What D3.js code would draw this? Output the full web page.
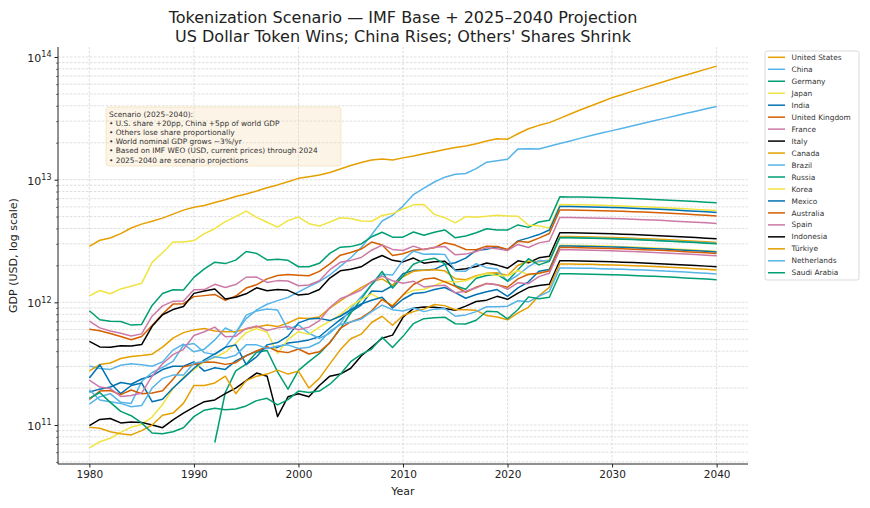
<!DOCTYPE html>
<html><head><meta charset="utf-8">
<script src="https://cdnjs.cloudflare.com/ajax/libs/d3/7.8.5/d3.min.js"></script>
<style>body{margin:0;background:#fff} svg{font-family:"DejaVu Sans",sans-serif}</style>
</head><body><svg id="c" width="870" height="508"></svg>
<script>
// ---- data (GDP, billions of current USD) ----
const histYears = d3.range(1980, 2025);
const projYears = d3.range(2025, 2041);
const countries = ["United States","China","Germany","Japan","India","United Kingdom","France","Italy","Canada","Brazil","Russia","Korea","Mexico","Australia","Spain","Indonesia","Türkiye","Netherlands","Saudi Arabia"];
const palette = ["#E69F00","#56B4E9","#009E73","#F0E442","#0072B2","#D55E00","#CC79A7","#000000"];
const yTickValues = [1e11, 1e12, 1e13, 1e14];
const yTickExponents = ["11","12","13","14"];
const xTickValues = [1980,1990,2000,2010,2020,2030,2040];

const usHist = [2857,3207,3344,3634,4037,4339,4580,4855,5236,5642,5963,6158,6520,6858,7287,7640,8073,8578,9063,9631,10251,10582,10929,11457,12217,13039,13816,14474,14770,14478,15049,15600,16254,16880,17608,18295,18805,19612,20657,21540,21354,23681,26007,27721,29185];
const usProj = [31600,34300,37100,40100,43200,46600,49500,52700,56000,59400,63100,67000,71000,75200,79600,84300];
const chinaHist = [303,289,284,307,315,310,301,327,408,457,395,415,494,618,565,737,867,965,1032,1097,1214,1344,1477,1671,1966,2309,2797,3555,4604,5122,6087,7552,8532,9570,10476,11062,11233,12310,13895,14280,14688,17820,17882,17795,18748];
const chinaProj = [19700,20700,21800,22900,24000,25100,26300,27500,28800,30200,31600,33000,34600,36100,37800,39500];
const germanyHist = [854,721,700,697,652,661,943,1180,1267,1259,1598,1872,2123,2069,2208,2595,2502,2217,2243,2200,1950,1951,2079,2506,2815,2846,2993,3421,3730,3398,3397,3744,3527,3733,3890,3357,3469,3690,3977,3889,3887,4278,4082,4525,4659];
const germanyProj = [7245,7234,7212,7183,7148,7107,7060,7008,6953,6894,6831,6765,6696,6626,6551,6473];
const japanHist = [1129,1249,1174,1286,1354,1428,2117,2539,3101,3110,3186,3632,3981,4544,4999,5546,4924,4493,4098,4636,4968,4374,4183,4519,4893,4831,4601,4580,5106,5289,5759,6233,6272,5212,4897,4444,5004,4931,5041,5118,5055,5034,4256,4213,4026];
const japanProj = [6260,6251,6232,6206,6176,6140,6100,6055,6008,5956,5902,5846,5785,5725,5660,5593];
const indiaHist = [186,196,204,222,215,237,252,283,301,301,327,275,293,284,333,367,400,424,429,467,477,494,524,618,722,834,949,1238,1224,1365,1708,1823,1828,1857,2039,2104,2295,2651,2703,2836,2674,3168,3354,3568,3889];
const indiaProj = [6047,6038,6020,5995,5966,5932,5892,5849,5803,5754,5701,5647,5589,5530,5468,5403];
const ukHist = [604,587,558,526,496,527,647,803,967,975,1113,1134,1160,1038,1125,1307,1393,1554,1653,1687,1665,1649,1786,2060,2422,2544,2718,3100,2929,2412,2486,2664,2707,2786,3065,2928,2694,2681,2871,2851,2697,3141,3089,3340,3644];
const ukProj = [5666,5658,5640,5617,5590,5558,5521,5481,5438,5391,5342,5291,5237,5182,5123,5063];
const franceHist = [702,619,584,560,531,553,771,936,1019,1025,1269,1270,1402,1323,1395,1601,1606,1453,1503,1493,1366,1383,1501,1844,2119,2197,2320,2660,2930,2700,2646,2870,2683,2811,2856,2439,2472,2595,2790,2729,2647,2966,2796,3052,3162];
const franceProj = [4917,4910,4895,4875,4851,4823,4791,4756,4719,4679,4636,4591,4544,4497,4446,4393];
const italyHist = [481,433,430,443,440,453,637,792,873,925,1183,1236,1284,1065,1100,1174,1313,1241,1270,1253,1146,1171,1271,1578,1807,1858,1949,2213,2408,2199,2136,2295,2087,2142,2162,1836,1877,1961,2092,2011,1897,2179,2104,2304,2373];
const italyProj = [3690,3684,3673,3658,3641,3620,3596,3569,3541,3511,3479,3446,3410,3375,3336,3297];
const canadaHist = [276,311,320,348,361,368,378,431,511,566,596,613,583,576,579,605,630,654,634,678,744,738,760,896,1026,1173,1319,1468,1553,1377,1617,1793,1828,1847,1805,1556,1528,1650,1725,1744,1655,2008,2162,2142,2214];
const canadaProj = [3443,3438,3428,3413,3397,3377,3355,3330,3304,3276,3246,3215,3182,3149,3113,3076];
const brazilHist = [148,170,180,153,150,226,268,295,330,447,462,389,375,429,559,786,850,883,864,600,655,560,510,559,670,892,1108,1397,1696,1667,2209,2616,2465,2473,2456,1802,1796,2064,1917,1873,1476,1670,1952,2191,2171];
const brazilProj = [3376,3371,3361,3347,3331,3312,3290,3266,3240,3212,3183,3153,3120,3087,3053,3016];
const russiaHist = [null,null,null,null,null,null,null,null,null,null,null,null,72,184,276,313,392,405,271,196,279,329,383,471,608,818,1061,1393,1783,1306,1635,2046,2208,2292,2059,1363,1277,1574,1657,1693,1493,1843,2266,2021,2161];
const russiaProj = [3360,3355,3345,3331,3315,3296,3274,3250,3225,3197,3168,3138,3105,3073,3038,3002];
const koreaHist = [65,73,78,87,96,101,116,147,197,246,283,330,355,392,463,566,610,570,383,498,576,548,627,702,793,935,1053,1173,1047,944,1144,1253,1278,1370,1484,1466,1500,1623,1725,1651,1644,1818,1674,1713,1875];
const koreaProj = [2916,2912,2903,2891,2877,2860,2841,2821,2798,2775,2749,2723,2695,2667,2637,2605];
const mexicoHist = [242,310,220,180,210,220,155,162,200,240,290,340,380,430,450,310,360,450,470,530,680,730,740,710,770,870,970,1040,1100,900,1060,1180,1200,1270,1320,1200,1080,1160,1220,1270,1120,1310,1470,1790,1852];
const mexicoProj = [2880,2876,2867,2855,2841,2825,2806,2786,2764,2740,2715,2689,2662,2634,2604,2573];
const australiaHist = [162,189,191,177,193,180,182,190,236,299,311,326,325,312,322,368,401,435,399,389,416,379,395,467,614,692,747,853,1055,928,1146,1397,1547,1577,1468,1351,1208,1326,1427,1392,1327,1553,1692,1727,1802];
const australiaProj = [2802,2798,2789,2778,2764,2748,2730,2710,2689,2666,2642,2616,2590,2562,2534,2504];
const spainHist = [232,204,198,171,174,182,250,316,375,414,537,575,628,525,530,613,641,590,619,635,598,628,708,907,1069,1153,1260,1474,1634,1499,1431,1487,1336,1362,1380,1196,1233,1313,1422,1394,1277,1446,1420,1620,1725];
const spainProj = [2682,2678,2670,2659,2646,2631,2613,2594,2574,2552,2529,2504,2479,2453,2425,2396];
const indonesiaHist = [99,111,113,104,106,105,100,95,110,125,140,155,160,180,200,230,265,250,117,170,180,170,210,250,260,290,365,430,510,540,755,893,918,912,891,861,932,1016,1042,1119,1059,1187,1319,1371,1403];
const indonesiaProj = [2182,2179,2172,2163,2153,2140,2126,2111,2094,2076,2057,2038,2017,1995,1973,1950];
const turkiyeHist = [96,94,88,85,83,90,100,120,125,150,210,210,220,250,180,230,250,260,280,260,275,200,240,315,410,505,550,685,770,650,780,840,880,960,940,870,870,860,780,760,720,820,910,1130,1323];
const turkiyeProj = [2057,2054,2048,2039,2029,2018,2004,1990,1974,1957,1939,1921,1901,1881,1860,1838];
const netherlandsHist = [194,160,155,150,141,144,200,240,255,255,320,330,360,350,370,450,450,420,440,450,420,430,470,580,660,690,730,840,950,870,850,900,840,880,890,770,790,840,920,920,930,1030,1010,1120,1227];
const netherlandsProj = [1908,1905,1899,1892,1882,1872,1859,1846,1831,1815,1799,1782,1763,1745,1725,1705];
const saudiHist = [165,184,153,129,119,104,86,85,88,95,117,132,137,133,135,143,158,165,146,161,189,184,189,215,259,328,377,416,520,429,528,671,736,747,756,669,666,715,846,838,734,874,1108,1068,1100];
const saudiProj = [1711,1708,1703,1696,1688,1678,1667,1655,1642,1628,1613,1598,1581,1565,1547,1529];

const histData = [usHist,chinaHist,germanyHist,japanHist,indiaHist,ukHist,franceHist,italyHist,canadaHist,brazilHist,russiaHist,koreaHist,mexicoHist,australiaHist,spainHist,indonesiaHist,turkiyeHist,netherlandsHist,saudiHist];
const projData = [usProj,chinaProj,germanyProj,japanProj,indiaProj,ukProj,franceProj,italyProj,canadaProj,brazilProj,russiaProj,koreaProj,mexicoProj,australiaProj,spainProj,indonesiaProj,turkiyeProj,netherlandsProj,saudiProj];

const noteLines = ["Scenario (2025–2040):","• U.S. share +20pp, China +5pp of world GDP","• Others lose share proportionally","• World nominal GDP grows ~3%/yr","• Based on IMF WEO (USD, current prices) through 2024","• 2025–2040 are scenario projections"];

// ---- layout ----
const svg = d3.select("#c");
const L = 58, R = 748, T = 47, B = 464;
const x = d3.scaleLinear().domain([1977, 2043]).range([L, R]);
const y = d3.scaleLog().domain([Math.pow(10,10.682), Math.pow(10,14.0815)]).range([B, T]);

const series = countries.map((name, i) => ({
  name, color: palette[i % palette.length],
  pts: histYears.map((yr, j) => ({year: yr, v: histData[i][j]}))
        .concat(projYears.map((yr, j) => ({year: yr, v: projData[i][j]})))
}));

// grid
const minorVals = [];
[1e10,1e11,1e12,1e13,1e14].forEach(d => { for (let k = 1; k <= 9; k++) { const v = d*k; if (v >= y.domain()[0] && v <= y.domain()[1]) minorVals.push(v); } });
const grid = svg.append("g");
grid.selectAll("line.gy").data(minorVals).join("line")
  .attr("x1", L).attr("x2", R).attr("y1", d => y(d)).attr("y2", d => y(d))
  .attr("stroke", "#c8c8c8").attr("stroke-width", 0.6).attr("stroke-dasharray", "2.5,1.5");
grid.selectAll("line.gx").data(xTickValues).join("line")
  .attr("y1", T).attr("y2", B).attr("x1", d => x(d)).attr("x2", d => x(d))
  .attr("stroke", "#c8c8c8").attr("stroke-width", 0.6).attr("stroke-dasharray", "2.5,1.5");

// note box
const note = svg.append("g");
note.append("rect").attr("x", 106).attr("y", 107).attr("width", 235).attr("height", 59).attr("rx", 3)
  .attr("fill", "#F5DEB3").attr("fill-opacity", 0.32).attr("stroke", "#F5DEB3").attr("stroke-opacity", 0.7);
note.selectAll("text").data(noteLines).join("text")
  .attr("x", 109).attr("y", (d, i) => 116.5 + i * 9.2)
  .attr("font-size", 7.4).attr("fill", "#333").text(d => d);

// lines
const line = d3.line().defined(d => d.v != null).x(d => x(d.year)).y(d => y(d.v * 1e9));
svg.append("g").selectAll("path").data(series).join("path")
  .attr("d", d => line(d.pts)).attr("fill", "none")
  .attr("stroke", d => d.color).attr("stroke-width", 1.5).attr("stroke-linejoin", "round");

// axes
const xAxis = svg.append("g").attr("transform", `translate(0,${B})`)
  .call(d3.axisBottom(x).tickValues(xTickValues).tickSize(3.5).tickPadding(3).tickFormat(d3.format("d")));
xAxis.select(".domain").attr("d", `M${L},0H${R}`).attr("stroke", "#222").attr("stroke-width", 1);
xAxis.selectAll("text").attr("font-size", 10.5).attr("font-family", "DejaVu Sans").attr("fill", "#222");
xAxis.selectAll(".tick line").attr("stroke", "#222");

const yAxis = svg.append("g").attr("transform", `translate(${L},0)`)
  .call(d3.axisLeft(y).tickValues(yTickValues).tickSize(3.5).tickPadding(3).tickFormat(""));
yAxis.select(".domain").attr("d", `M0,${T}V${B}`).attr("stroke", "#222").attr("stroke-width", 1);
yAxis.selectAll(".tick line").attr("stroke", "#222");
yAxis.selectAll(".tick text").each(function(d, i) {
  const t = d3.select(this).attr("font-size", 11).attr("font-family", "DejaVu Sans").attr("fill", "#222").attr("dy", "0.4em");
  t.append("tspan").text("10");
  t.append("tspan").attr("font-size", 8).attr("dy", "-0.55em").text(yTickExponents[i]);
});
svg.append("g").attr("transform", `translate(${L},0)`)
  .call(d3.axisLeft(y).tickValues(minorVals.filter(v => !yTickValues.includes(v))).tickSize(2).tickFormat(""))
  .call(g => { g.select(".domain").remove(); g.selectAll("line").attr("stroke", "#222").attr("stroke-width", 0.6); });

// labels
svg.append("text").attr("x", (L + R) / 2).attr("y", 23).attr("text-anchor", "middle").attr("font-size", 16).attr("fill", "#222")
  .text("Tokenization Scenario — IMF Base + 2025–2040 Projection");
svg.append("text").attr("x", (L + R) / 2).attr("y", 42).attr("text-anchor", "middle").attr("font-size", 16).attr("fill", "#222")
  .text("US Dollar Token Wins; China Rises; Others' Shares Shrink");
svg.append("text").attr("x", (L + R) / 2).attr("y", 495).attr("text-anchor", "middle").attr("font-size", 11).attr("fill", "#222").text("Year");
svg.append("text").attr("transform", `translate(17,${(T + B) / 2}) rotate(-90)`).attr("text-anchor", "middle").attr("font-size", 11).attr("fill", "#222")
  .text("GDP (USD, log scale)");

// legend
const lg = svg.append("g");
lg.append("rect").attr("x", 765).attr("y", 51).attr("width", 94).attr("height", 229).attr("rx", 2)
  .attr("fill", "#fff").attr("stroke", "#d0d0d0").attr("stroke-width", 0.8);
const items = lg.selectAll("g.it").data(series).join("g").attr("transform", (d, i) => `translate(0,${57.3 + i * 11.97})`);
items.append("line").attr("x1", 768).attr("x2", 785).attr("stroke", d => d.color).attr("stroke-width", 1.5);
items.append("text").attr("x", 791.5).attr("dy", "0.35em").attr("font-size", 7.4).attr("fill", "#333").text(d => d.name);
</script></body></html>
